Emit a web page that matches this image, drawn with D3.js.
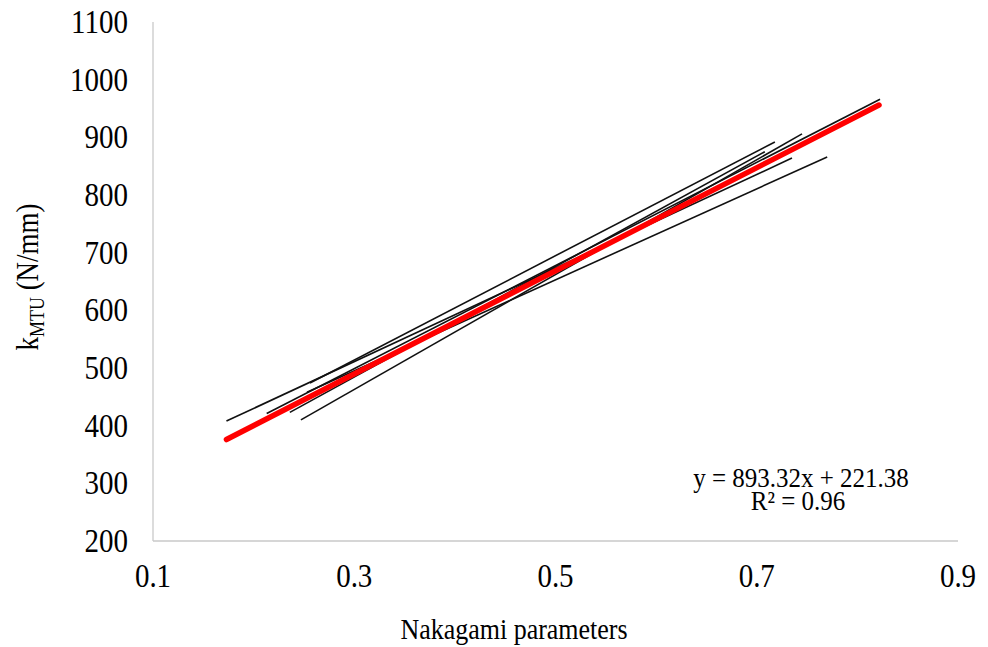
<!DOCTYPE html>
<html>
<head>
<meta charset="utf-8">
<script src="https://cdn.jsdelivr.net/npm/d3@7"></script>
<style>
  html, body { margin: 0; padding: 0; background: #ffffff; }
  svg { display: block; }
  text { font-family: "Liberation Serif", "Times New Roman", serif; fill: #000; }
</style>
</head>
<body>
<svg id="chart" width="988" height="647"></svg>
<script>
// ---- data ----
const xTicks = [0.1, 0.3, 0.5, 0.7, 0.9];
const yTicks = [200, 300, 400, 500, 600, 700, 800, 900, 1000, 1100];

// individual subject fits: [x, y] endpoints
const line1 = [[0.173, 408], [0.735, 864]];
const line2 = [[0.213, 421], [0.8225, 966]];
const line3 = [[0.236, 423], [0.708, 875]];
const line4 = [[0.247, 410], [0.745, 906]];
const line5 = [[0.256, 474], [0.718, 892]];
const line6 = [[0.253, 458], [0.770, 866]];
const subjectLines = [line1, line2, line3, line4, line5, line6];

// pooled trendline endpoints
const trendLine = [[0.173, 376], [0.8215, 956]];

const equationText = "y = 893.32x + 221.38";
const r2Text = "R² = 0.96";
const xTitle = "Nakagami parameters";

// ---- drawing ----
const svg = d3.select("#chart");
const x = d3.scaleLinear().domain([0.1, 0.9]).range([153, 958]);
const y = d3.scaleLinear().domain([200, 1100]).range([541, 22]);
const SY = 1.15; // vertical stretch of the serif text

// axes lines
const axisColor = "#c9c9c9";
svg.append("line").attr("x1", x(0.1)).attr("x2", x(0.1))
  .attr("y1", y(1100)).attr("y2", y(200))
  .attr("stroke", axisColor).attr("stroke-width", 1.3);
svg.append("line").attr("x1", x(0.1)).attr("x2", x(0.9))
  .attr("y1", y(200)).attr("y2", y(200))
  .attr("stroke", axisColor).attr("stroke-width", 1.3);

// y tick labels
svg.append("g").selectAll("text").data(yTicks).join("text")
  .attr("transform", d => `translate(128,${y(d) + 11}) scale(1,${SY})`)
  .attr("text-anchor", "end")
  .attr("font-size", 29)
  .text(d => d);

// x tick labels
svg.append("g").selectAll("text").data(xTicks).join("text")
  .attr("transform", d => `translate(${x(d)},587) scale(1,${SY})`)
  .attr("text-anchor", "middle")
  .attr("font-size", 29)
  .text(d => d3.format(".1f")(d));

// lines
const lineGen = d3.line().x(d => x(d[0])).y(d => y(d[1]));
svg.append("g").selectAll("path").data(subjectLines).join("path")
  .attr("d", lineGen)
  .attr("fill", "none")
  .attr("stroke", "#111")
  .attr("stroke-width", 1.6);

svg.append("path").datum(trendLine)
  .attr("d", lineGen)
  .attr("fill", "none")
  .attr("stroke", "#ff0000")
  .attr("stroke-width", 5.5)
  .attr("stroke-linecap", "round");

// equation (one text block, two lines)
const eq = svg.append("text")
  .attr("transform", `translate(801,487) scale(1,1.1)`)
  .attr("text-anchor", "middle").attr("font-size", 25);
eq.append("tspan").attr("x", 0).attr("y", 0).text(equationText);
eq.append("tspan").attr("x", -3).attr("y", 21).text(r2Text);

// x title
svg.append("text")
  .attr("transform", `translate(514,639) scale(1,${SY})`)
  .attr("text-anchor", "middle").attr("font-size", 26).text(xTitle);

// y title
const yt = svg.append("text")
  .attr("transform", `translate(38,277) rotate(-90) scale(1,${SY})`)
  .attr("text-anchor", "middle")
  .attr("font-size", 27);
yt.append("tspan").text("k");
yt.append("tspan").attr("font-size", 18).attr("dy", 5).text("MTU");
yt.append("tspan").attr("dy", -5).text(" (N/mm)");
</script>
</body>
</html>
